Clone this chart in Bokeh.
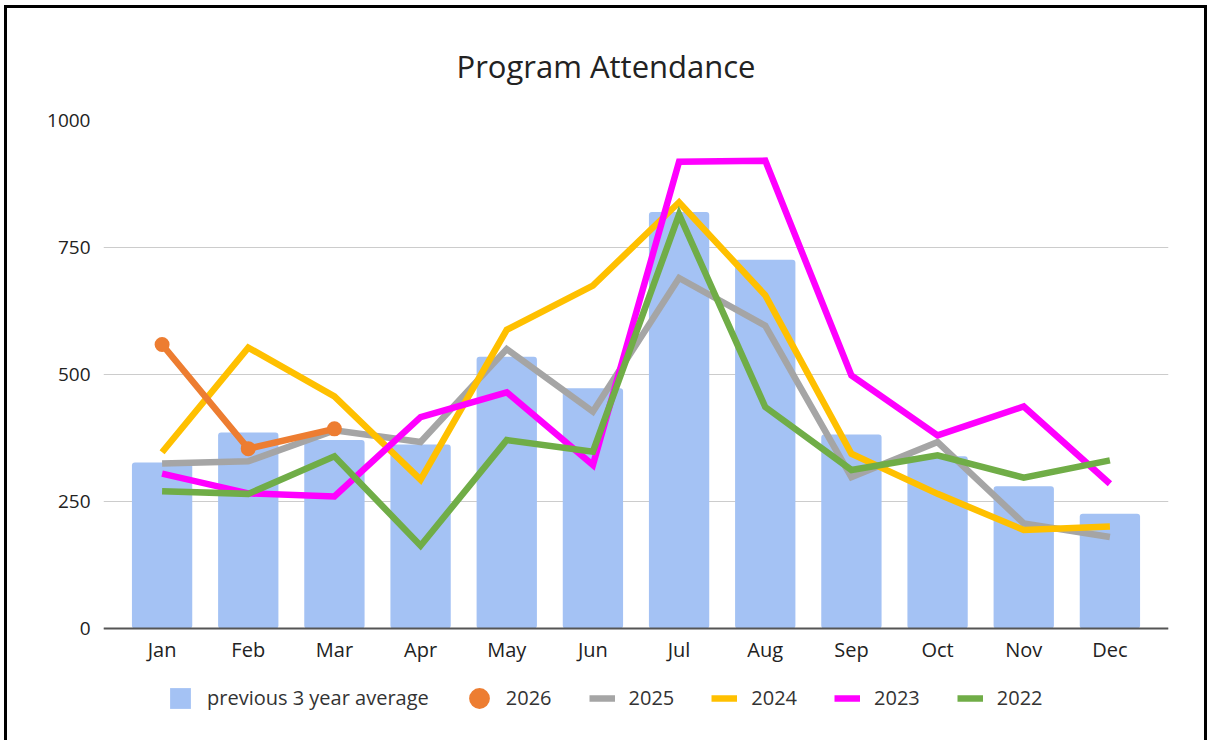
from bokeh.plotting import figure
from bokeh.models import FactorRange, Range1d, FixedTicker, Legend, LegendItem
from bokeh.embed import file_html
from bokeh.resources import INLINE

months = ["Jan", "Feb", "Mar", "Apr", "May", "Jun", "Jul", "Aug", "Sep", "Oct", "Nov", "Dec"]
avg3 = [327, 386, 371, 362, 535, 473, 820, 726, 382, 339, 280, 226]
months_2026 = ["Jan", "Feb", "Mar"]
y2026 = [559, 354, 393]
y2025 = [325, 329, 390, 367, 550, 427, 690, 596, 298, 367, 207, 180]
y2024 = [347, 553, 457, 293, 588, 675, 839, 656, 344, 265, 194, 201]
y2023 = [305, 266, 260, 416, 465, 322, 919, 921, 498, 380, 437, 285]
y2022 = [270, 265, 339, 163, 371, 348, 815, 436, 312, 341, 297, 331]
y_ticks = [0, 250, 500, 750, 1000]

FONT = "Open Sans"

# frame spans 120..740 px; 1000 units = 508 px, so the bottom (legend strip) is below 0
p = figure(
    x_range=FactorRange(*months, range_padding=0.03),
    y_range=Range1d(-220.5, 1000),
    frame_width=1065, frame_height=620,
    min_border_left=96, min_border_right=36, min_border_top=112, min_border_bottom=0,
    output_backend="svg", toolbar_location=None, title="Program Attendance",
)
p.styles = {
    "border-left": "3px solid black",
    "border-top": "3px solid black",
    "border-right": "3px solid black",
    "margin-left": "4px",
    "margin-top": "5px",
}
p.outline_line_color = None
p.background_fill_color = "white"
p.border_fill_color = "white"

p.title.align = "left"
p.title.offset = 353
p.title.text_font = FONT
p.title.text_font_size = "31px"
p.title.text_font_style = "normal"
p.title.text_color = "#222222"
p.title.standoff = 68

bars = p.vbar(x=months, top=avg3, width=0.7, fill_color="#A4C2F4", line_color=None, border_radius=3)

lw = 6.5
r25 = p.line(months, y2025, line_color="#A5A5A5", line_width=lw, line_join="miter")
r24 = p.line(months, y2024, line_color="#FFC000", line_width=lw, line_join="miter")
r23 = p.line(months, y2023, line_color="#FF00FF", line_width=lw, line_join="miter")
r22 = p.line(months, y2022, line_color="#70AD47", line_width=lw, line_join="miter")
r26l = p.line(months_2026, y2026, line_color="#ED7D31", line_width=lw, line_join="miter")
r26 = p.ellipse(x=months_2026, y=y2026, width=15, height=15, width_units="screen",
                height_units="screen", fill_color="#ED7D31", line_color=None)

p.xgrid.grid_line_color = None
p.ygrid.grid_line_color = "#CCCCCC"
p.ygrid.grid_line_width = 1
p.ygrid.ticker = FixedTicker(ticks=y_ticks)
p.yaxis.ticker = FixedTicker(ticks=y_ticks)
p.yaxis.axis_line_color = None
p.yaxis.major_tick_line_color = None
p.yaxis.minor_tick_line_color = None
p.yaxis.major_tick_out = 0
p.yaxis.major_label_standoff = 13
p.yaxis.major_label_text_font = FONT
p.yaxis.major_label_text_font_size = "19px"
p.yaxis.major_label_text_color = "#222222"

p.xaxis.fixed_location = 0
p.xaxis.axis_line_color = "#555555"
p.xaxis.axis_line_width = 2
p.xaxis.major_tick_line_color = None
p.xaxis.minor_tick_line_color = None
p.xaxis.major_tick_out = 0
p.xaxis.major_label_standoff = 8
p.xaxis.major_label_text_font = FONT
p.xaxis.major_label_text_font_size = "20px"
p.xaxis.major_label_text_color = "#222222"

legend = Legend(
    items=[
        LegendItem(label="previous 3 year average", renderers=[bars]),
        LegendItem(label="2026", renderers=[r26]),
        LegendItem(label="2025", renderers=[r25]),
        LegendItem(label="2024", renderers=[r24]),
        LegendItem(label="2023", renderers=[r23]),
        LegendItem(label="2022", renderers=[r22]),
    ],
    orientation="horizontal", location=(64, 29),
    border_line_color=None, background_fill_alpha=0,
    glyph_width=26, glyph_height=26, label_standoff=14, spacing=37,
    label_text_font=FONT, label_text_font_size="20px", label_text_color="#333333",
    padding=0, margin=0,
)
p.add_layout(legend, "center")

open("out.html", "w").write(file_html(p, INLINE))
